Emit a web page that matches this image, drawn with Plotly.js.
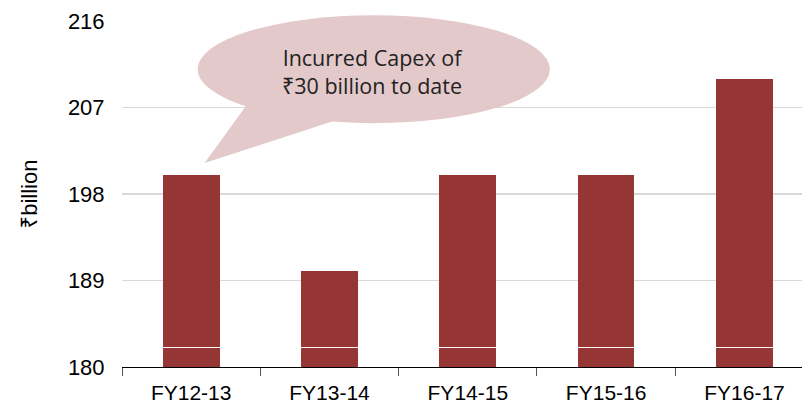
<!DOCTYPE html>
<html>
<head>
<meta charset="utf-8">
<script src="https://cdn.plot.ly/plotly-3.0.1.min.js"></script>
<style>html,body{margin:0;padding:0;background:#fff;}#chart{width:802px;height:413px;}</style>
</head>
<body>
<div id="chart"></div>
<script>
// Data
const categories = ["FY12-13", "FY13-14", "FY14-15", "FY15-16", "FY16-17"];
const totals = [200, 190, 200, 200, 210];      // ₹ billion, bar tops
const splitLevel = [182, 182, 182, 182, 182]; // thin white divider near bar base
const dividerSize = [0.1, 0.1, 0.1, 0.1, 0.1];
const yTicks = [180, 189, 198, 207, 216];
const calloutText = "Incurred Capex of<br>₹30 billion to date";

const upper = totals.map((t, i) => t - splitLevel[i] - dividerSize[i]);
const barColor = "#963634";
const font = "Liberation Sans, Arial, Noto Sans, sans-serif";

const traces = [
  { type: "bar", x: categories, y: splitLevel,
    marker: { color: barColor, line: { width: 0 } }, hoverinfo: "skip", showlegend: false },
  { type: "bar", x: categories, y: dividerSize,
    marker: { color: "#ffffff", line: { width: 0 } }, hoverinfo: "skip", showlegend: false },
  { type: "bar", x: categories, y: upper,
    marker: { color: barColor, line: { width: 0 } }, hoverinfo: "skip", showlegend: false }
];

const layout = {
  width: 802, height: 413,
  margin: { l: 122, r: 0, t: 21, b: 46, pad: 0 },
  paper_bgcolor: "#ffffff", plot_bgcolor: "#ffffff",
  barmode: "stack", bargap: 0.59,
  showlegend: false,
  font: { family: font, color: "#000000" },
  xaxis: {
    type: "category", range: [-0.5, 4.416],
    showline: true, linecolor: "#000000", linewidth: 1,
    ticks: "outside", tickson: "boundaries", ticklen: 8, tickcolor: "#555555", tickwidth: 1,
    ticklabelstandoff: 7,
    showgrid: false, zeroline: false,
    tickfont: { family: font, size: 21, color: "#000000" }
  },
  yaxis: {
    range: [180, 216], tickvals: yTicks, ticktext: yTicks.map(String),
    showgrid: true, gridcolor: "#d9d9d9", gridwidth: 1.3,
    zeroline: false, showline: false,
    ticks: "outside", ticklen: 12, tickcolor: "rgba(0,0,0,0)",
    tickfont: { family: font, size: 22, color: "#000000" },
    title: { text: "₹billion", font: { family: font, size: 22, color: "#000000" }, standoff: 24 }
  },
  shapes: [
    { type: "path", xref: "paper", yref: "paper", layer: "above",
      path: "M 0.19,0.775 L 0.1215,0.5894 L 0.31,0.71 L 0.30,0.78 Z",
      fillcolor: "#e3c9ca", line: { width: 0 } },
    { type: "circle", xref: "paper", yref: "paper", layer: "above",
      x0: 0.1112, x1: 0.6292, y0: 0.7048, y1: 1.0165,
      fillcolor: "#e3c9ca", line: { width: 0 } }
  ],
  annotations: [
    { xref: "paper", yref: "paper", x: 0.3691, y: 0.855,
      xanchor: "center", yanchor: "middle", showarrow: false,
      text: calloutText, align: "center",
      font: { family: "Open Sans, Noto Sans, sans-serif", size: 21.5, color: "#222222" } }
  ]
};

Plotly.newPlot("chart", traces, layout, { staticPlot: true, displayModeBar: false });
</script>
</body>
</html>
